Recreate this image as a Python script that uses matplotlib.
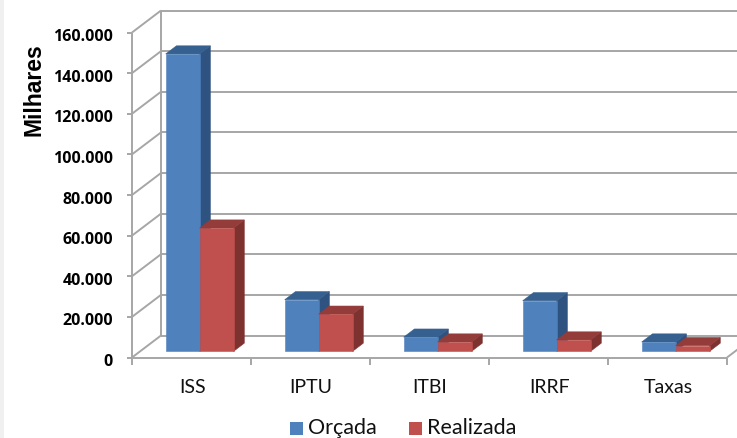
import matplotlib
matplotlib.use("Agg")
import matplotlib.pyplot as plt
from matplotlib.patches import Polygon, Rectangle

categories = ["ISS", "IPTU", "ITBI", "IRRF", "Taxas"]
orcada = [146400, 25400, 7000, 24900, 4600]
realizada = [60700, 18300, 4600, 5600, 2800]
y_ticks = [0, 20000, 40000, 60000, 80000, 100000, 120000, 140000, 160000]
y_labels = ["0", "20.000", "40.000", "60.000", "80.000", "100.000", "120.000", "140.000", "160.000"]

W, H = 737, 439
GRID = "#a6a6a6"

fig = plt.figure(figsize=(W / 100, H / 100), dpi=100, facecolor="white")
# thin grey strip on the left of the original
fig.add_artist(Rectangle((0, 0), 4 / W, 1, transform=fig.transFigure, facecolor="#f0f0f0", edgecolor="none"))
# axes box is the front plane of the 3d chart
ax = fig.add_axes([132 / W, 1 - 358.5 / H, 595 / W, 325 / H])
ax.set_xlim(0, 5)
ax.set_ylim(0, 160000)
ax.axis("off")

# depth of the box, in data units
depth_x = 29 / 119
depth_y = 22 / 325 * 160000


def proj(x, v, d=0.0):
    return x + d * depth_x, v + d * depth_y


def line(p, q, lw=1.4):
    ax.plot([p[0], q[0]], [p[1], q[1]], color=GRID, lw=lw, clip_on=False, zorder=1,
            solid_capstyle="butt")


for t in y_ticks:
    line(proj(0, t), proj(0, t, 1))
    line(proj(0, t, 1), proj(5, t, 1))
    line(proj(0, t), proj(-0.04, t))
line(proj(0, 0), proj(5, 0))
line(proj(0, 0), proj(0, 160000))
line(proj(0, 0, 1), proj(0, 160000, 1))
line(proj(5, 0), proj(5, 0, 1))
for i in range(6):
    line(proj(i, 0), proj(i, -3500))

# bar geometry
group = 0.57
bar_w = group / 2
d0, d1 = 0.28, 0.65


def bar3d(x, v, front, top, side):
    faces = [
        ([proj(x + bar_w, 0, d0), proj(x + bar_w, 0, d1), proj(x + bar_w, v, d1), proj(x + bar_w, v, d0)], side),
        ([proj(x, v, d0), proj(x + bar_w, v, d0), proj(x + bar_w, v, d1), proj(x, v, d1)], top),
        ([proj(x, 0, d0), proj(x + bar_w, 0, d0), proj(x + bar_w, v, d0), proj(x, v, d0)], front),
    ]
    for pts, col in faces:
        ax.add_patch(Polygon(pts, closed=True, facecolor=col, edgecolor=col, lw=0.4,
                             clip_on=False, zorder=3))


for i, name in enumerate(categories):
    x0 = i + 0.5 - group / 2
    bar3d(x0, orcada[i], "#4f81bd", "#36608f", "#2f5380")
    bar3d(x0 + bar_w, realizada[i], "#c0504d", "#933c3a", "#7d3230")
    ax.text(i + 0.505, -14500, name, ha="center", va="center", fontsize=14,
            family="Lato", color="#111111", clip_on=False)

for t, lab in zip(y_ticks, y_labels):
    ax.annotate(lab, (0, t), xytext=(-19, -3.5), textcoords="offset pixels", ha="right",
                va="center", fontsize=11.5, fontweight="bold", family="Open Sans",
                color="black")

fig.text(34 / W, 1 - 89.5 / H, "Milhares", rotation=90, ha="center", va="center",
         fontsize=16.5, fontweight="bold", family="Liberation Sans", color="black")

# legend
for px, col, lab in [(290, "#4f81bd", "Orçada"), (409, "#c0504d", "Realizada")]:
    fig.add_artist(Rectangle((px / W, 1 - 436 / H), 13 / W, 13 / H, transform=fig.transFigure,
                             facecolor=col, edgecolor="none"))
    fig.text((px + 18) / W, 1 - 428 / H, lab, ha="left", va="center", fontsize=15.5,
             family="Lato", color="#111111")

plt.savefig("out.png", dpi=100)
